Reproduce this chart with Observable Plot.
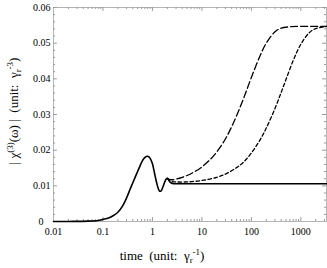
<!DOCTYPE html>
<html><head><meta charset="utf-8">
<script src="https://cdn.jsdelivr.net/npm/d3@7"></script>
<script src="https://cdn.jsdelivr.net/npm/@observablehq/plot@0.6"></script>
<style>
html,body{margin:0;padding:0;background:#fff;}
#chart svg{display:block;}
</style>
</head><body><div id="chart"></div>
<script>
// solid curve
const solidT = [0.01,0.02,0.05,0.08,0.1,0.13,0.16,0.2,0.25,0.3,0.35,0.4,0.45,0.5,0.55,0.6,0.65,0.7,0.75,0.8,0.85,0.9,1.0,1.1,1.2,1.3,1.4,1.5,1.6,1.7,1.8,1.9,2.0,2.1,2.2,2.4,2.7,3.2,5,10,100,1000,3300];
const solidV = [0,0.00002,0.0001,0.0003,0.0006,0.0010,0.0016,0.0026,0.0044,0.0066,0.0089,0.0108,0.0125,0.0140,0.0153,0.0165,0.0174,0.0179,0.0182,0.0183,0.0181,0.0177,0.0162,0.0136,0.0112,0.0094,0.0085,0.0086,0.0094,0.0104,0.0113,0.0119,0.0121,0.0118,0.0113,0.0108,0.0106,0.0106,0.0106,0.0106,0.0106,0.0106,0.0106];
// long dashed curve
const longT = [2.0,2.2,2.5,3,4,5,7,10,15,20,30,40,50,70,100,150,200,300,400,600,1000,3300];
const longV = [0.0121,0.0118,0.0117,0.0119,0.0124,0.0129,0.0139,0.0153,0.0175,0.0195,0.0232,0.0266,0.0296,0.0346,0.0404,0.0465,0.0500,0.0532,0.0542,0.0546,0.0547,0.0547];
// short dashed curve
const shortT = [2.0,2.2,2.5,3,5,10,20,30,50,70,100,150,200,300,400,500,700,1000,1500,2000,3000,3300];
const shortV = [0.0121,0.0115,0.0112,0.0111,0.0111,0.0115,0.0124,0.0133,0.0151,0.0167,0.0192,0.0229,0.0262,0.0317,0.0362,0.0398,0.0451,0.0497,0.0530,0.0541,0.0546,0.0547];

const xTicks = [0.01,0.1,1,10,100,1000];
const xTickLabels = ["0.01","0.1","1","10","100","1000"];
const xMinor = [0.02,0.03,0.04,0.05,0.06,0.07,0.08,0.09,0.2,0.3,0.4,0.5,0.6,0.7,0.8,0.9,2,3,4,5,6,7,8,9,20,30,40,50,60,70,80,90,200,300,400,500,600,700,800,900,2000,3000];
const yTicks = [0.01,0.02,0.03,0.04,0.05,0.06];
const yTickLabels = ["0.01","0.02","0.03","0.04","0.05","0.06"];
const yMinor = [0.002,0.004,0.006,0.008,0.012,0.014,0.016,0.018,0.022,0.024,0.026,0.028,0.032,0.034,0.036,0.038,0.042,0.044,0.046,0.048,0.052,0.054,0.056,0.058];

const solid = solidT.map((t,i)=>({t, v: solidV[i]}));
const long = longT.map((t,i)=>({t, v: longV[i]}));
const short = shortT.map((t,i)=>({t, v: shortV[i]}));
const xLab = xTicks.map((t,i)=>({t, s: xTickLabels[i]}));
const yLab = yTicks.map((v,i)=>({v, s: yTickLabels[i]}));

const X0 = 0.01, X1 = 3300, Y0 = 0, Y1 = 0.06;
const tickCol = "#9a9a9a";
const majY = 0.0011, minY = 0.00055, majX = 1.2, minX = 1.1;

const plot = Plot.plot({
  width: 327, height: 268,
  marginLeft: 53, marginRight: 1, marginTop: 7, marginBottom: 47,
  style: {fontFamily: "'Liberation Serif', serif", fontSize: "10px", color: "#000", background: "#fff"},
  x: {type: "log", domain: [X0, X1], axis: null},
  y: {domain: [Y0, Y1], axis: null},
  marks: [
    Plot.frame({stroke: "#b4b4b4", strokeWidth: 1}),
    // inward ticks bottom/top
    Plot.ruleX(xTicks.slice(1), {y1: Y0, y2: Y0+majY, stroke: tickCol}),
    Plot.ruleX(xMinor, {y1: Y0, y2: Y0+minY, stroke: tickCol}),
    Plot.ruleX(xTicks.slice(1), {y1: Y1, y2: Y1-majY, stroke: tickCol}),
    Plot.ruleX(xMinor, {y1: Y1, y2: Y1-minY, stroke: tickCol}),
    // inward ticks left/right
    Plot.ruleY(yTicks, {x1: X0, x2: X0*majX, stroke: tickCol}),
    Plot.ruleY(yMinor, {x1: X0, x2: X0*minX, stroke: tickCol}),
    Plot.ruleY(yTicks, {x1: X1, x2: X1/majX, stroke: tickCol}),
    Plot.ruleY(yMinor, {x1: X1, x2: X1/minX, stroke: tickCol}),
    // tick labels
    Plot.text(xLab, {x: "t", y: Y0, text: "s", dy: 6, lineAnchor: "top", textAnchor: "middle", fontSize: 10, fill: "#000", clip: false}),
    Plot.text(yLab, {x: X0, y: "v", text: "s", dx: -3, textAnchor: "end", fontSize: 10, fill: "#000"}),
    Plot.text(["0"], {x: X0, y: Y0, text: d => d, dx: -10, textAnchor: "end", fontSize: 10, fill: "#000"}),
    Plot.line(long, {x: "t", y: "v", stroke: "#000", strokeWidth: 1.3, strokeDasharray: "7,3", curve: "catmull-rom"}),
    Plot.line(short, {x: "t", y: "v", stroke: "#000", strokeWidth: 1.3, strokeDasharray: "3.5,2.5", curve: "catmull-rom"}),
    Plot.line(solid, {x: "t", y: "v", stroke: "#000", strokeWidth: 1.6, curve: "catmull-rom"})
  ]
});
document.getElementById("chart").appendChild(plot);

// axis titles with sub/superscripts
const svg = d3.select(plot);
const xl = svg.append("text").attr("x", 162).attr("y", 260).attr("text-anchor", "middle")
  .attr("font-family", "'Liberation Serif', serif").attr("font-size", 13).attr("fill", "#000")
  .attr("xml:space", "preserve");
xl.append("tspan").text("time  (unit:  γ");
xl.append("tspan").attr("font-size", 9).attr("dy", 3).text("r");
xl.append("tspan").attr("font-size", 9).attr("dy", -8).text("-1");
xl.append("tspan").attr("dy", 5).text(")");

const yl = svg.append("text").attr("transform", "translate(18,111) rotate(-90)").attr("text-anchor", "middle")
  .attr("font-family", "'Liberation Serif', serif").attr("font-size", 13).attr("fill", "#000")
  .attr("xml:space", "preserve");
yl.append("tspan").text("| χ");
yl.append("tspan").attr("font-size", 9).attr("dy", -5).text("(3)");
yl.append("tspan").attr("dy", 5).text("(ω) |  (unit:  γ");
yl.append("tspan").attr("font-size", 9).attr("dy", 3).text("r");
yl.append("tspan").attr("font-size", 9).attr("dy", -8).text("-3");
yl.append("tspan").attr("dy", 5).text(")");
</script>
</body></html>
